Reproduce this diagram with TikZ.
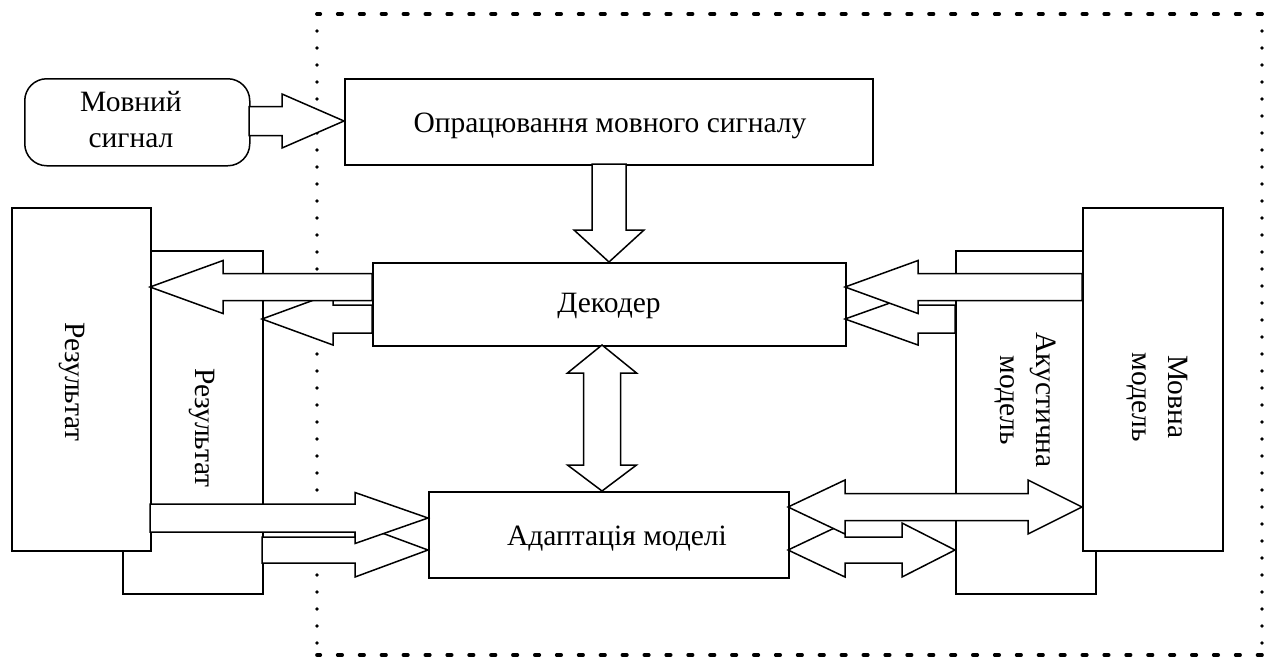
\documentclass[tikz,border=0pt]{standalone}
\usepackage{fontspec}
\setmainfont{Liberation Serif}
\newcommand{\harr}[6]{\draw[blk] (#1,#4-#5) -- (#2,#4-#5) -- (#2,#4-#6) -- (#3,#4) -- (#2,#4+#6) -- (#2,#4+#5) -- (#1,#4+#5) -- cycle;}
\newcommand{\dharr}[7]{\draw[blk] (#1,#5) -- (#2,#5-#7) -- (#2,#5-#6) -- (#3,#5-#6) -- (#3,#5-#7) -- (#4,#5) -- (#3,#5+#7) -- (#3,#5+#6) -- (#2,#5+#6) -- (#2,#5+#7) -- cycle;}
\newcommand{\varr}[6]{\draw[blk] (#4-#5,#1) -- (#4-#5,#2) -- (#4-#6,#2) -- (#4,#3) -- (#4+#6,#2) -- (#4+#5,#2) -- (#4+#5,#1) -- cycle;}
\newcommand{\dvarr}[7]{\draw[blk] (#5,#1) -- (#5+#7,#2) -- (#5+#6,#2) -- (#5+#6,#3) -- (#5+#7,#3) -- (#5,#4) -- (#5-#7,#3) -- (#5-#6,#3) -- (#5-#6,#2) -- (#5-#7,#2) -- cycle;}
\begin{document}
\begin{tikzpicture}[x=1pt,y=-1pt, line width=1.5pt,
  box/.style={draw, fill=white, rectangle, inner sep=0pt, anchor=north west},
  blk/.style={draw, fill=white, line join=miter},
  lbl/.style={font=\fontsize{29.5}{36}\selectfont, inner sep=0pt, align=center},
  hdots/.style={line width=3.6pt, line cap=round, dash pattern=on 4.5pt off 17.4pt},
  vdots/.style={line width=3.8pt, line cap=round, dash pattern=on 0pt off 17pt}]
\useasboundingbox (0,0) rectangle (1266,657);
% dotted frame
\coordinate (f1) at (317,14);
\coordinate (f2) at (1262,14);
\coordinate (f3) at (1262,655);
\coordinate (f4) at (317,655);
\draw[hdots] (f2) -- (f1);
\draw[hdots] (f3) -- (f4);
\draw[vdots] (f1) -- (f4);
\draw[vdots] (f2) -- (f3);
% boxes
\node[box, minimum width=225, minimum height=87, rounded corners=22pt] (sig) at (24,78) {};
\node[box, minimum width=528, minimum height=86] (proc) at (344,78) {};
\node[box, minimum width=473, minimum height=83] (dec) at (372,262) {};
\node[box, minimum width=360, minimum height=86] (adp) at (428,491) {};
\node[box, minimum width=140, minimum height=343] (res2) at (122,250) {};
\node[box, minimum width=139, minimum height=343] (res1) at (11,207) {};
\node[box, minimum width=140, minimum height=343] (ac) at (955,250) {};
\node[box, minimum width=140, minimum height=343] (lm) at (1082,207) {};
% block arrows
\harr{249}{282}{344}{121}{14.5}{27}
\varr{164}{230}{262}{609}{17}{35}
\dvarr{345}{373}{465}{491}{602}{18.5}{34.5}
\harr{372}{333}{262}{319}{14}{26}
\harr{372}{223}{150}{287}{13.5}{26.5}
\harr{262}{355}{428}{550}{13}{27}
\harr{150}{355}{428}{518}{14}{25.5}
\harr{955}{918}{845}{319}{14}{26}
\harr{1082}{918}{845}{287}{13.5}{26.5}
\dharr{788}{845}{902}{955}{550}{13}{27}
\dharr{788}{845}{1028}{1082}{507}{13.5}{27}
% labels
\node[lbl, anchor=center] (sigt) at (131,120) {Мовний\\сигнал};
\node[lbl, anchor=base] (proct) at (610,132) {Опрацювання мовного сигналу};
\node[lbl, anchor=base] (dect) at (609,312) {Декодер};
\node[lbl, anchor=base] (adpt) at (617,545) {Адаптація моделі};
\node[lbl, rotate=-90] (res1t) at (72,382) {Результат};
\node[lbl, rotate=-90] (res2t) at (202,428) {Результат};
\node[lbl, rotate=-90] (act) at (1025,400) {Акустична\\модель};
\node[lbl, rotate=-90] (lmt) at (1157,397) {Мовна\\модель};
\end{tikzpicture}
\end{document}
